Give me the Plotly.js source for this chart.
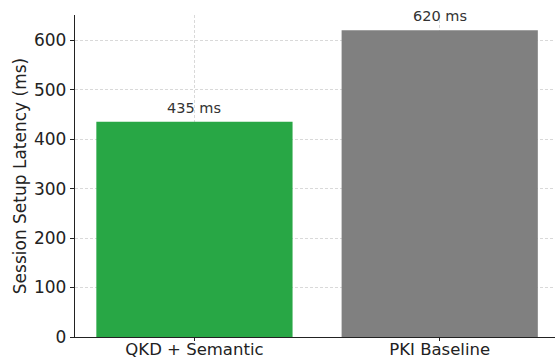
<!DOCTYPE html>
<html><head><meta charset="utf-8">
<script src="https://cdn.plot.ly/plotly-3.0.1.min.js"></script>
<style>html,body{margin:0;padding:0;background:#fff}#c{width:555px;height:358px}</style>
</head><body><div id="c"></div>
<script>
const categories = ["QKD + Semantic", "PKI Baseline"];
const latencies = [435, 620];
const labels = ["435 ms", "620 ms"];
const colors = ["#28a745", "#808080"];
const yTicks = [0, 100, 200, 300, 400, 500, 600];

const F = "DejaVu Sans, sans-serif";
const trace = {
  type: "bar", x: categories, y: latencies, width: 0.8,
  marker: {color: colors, line: {width: 0}}, hoverinfo: "none"
};
const annotations = categories.map((c, i) => ({
  x: c, y: latencies[i], text: labels[i], showarrow: false,
  xanchor: "center", yanchor: "bottom", yshift: 4,
  font: {family: F, size: 14.5, color: "#333"}
}));
Plotly.newPlot("c", [trace], {
  width: 555, height: 358,
  margin: {l: 75, r: 0, t: 15, b: 21, pad: 0},
  paper_bgcolor: "#fff", plot_bgcolor: "#fff",
  showlegend: false, bargap: 0.2,
  xaxis: {
    type: "category", range: [-0.487, 1.47],
    showline: true, linecolor: "#222", linewidth: 1.2,
    ticks: "outside", ticklen: 3, tickcolor: "#222", ticklabelstandoff: -6,
    showgrid: true, gridcolor: "#d0d0d0", griddash: "3px,2px", gridwidth: 0.8,
    layer: "above traces", zeroline: false,
    tickfont: {family: F, size: 16.5, color: "#222"}
  },
  yaxis: {
    range: [0, 651], tickvals: yTicks,
    showline: true, linecolor: "#222", linewidth: 1.2,
    ticks: "outside", ticklen: 4, tickcolor: "#222",
    showgrid: true, gridcolor: "#d0d0d0", griddash: "3px,2px", gridwidth: 0.8,
    layer: "above traces", zeroline: false,
    tickfont: {family: F, size: 17, color: "#222"},
    title: {text: "Session Setup Latency (ms)", standoff: 3,
            font: {family: F, size: 17, color: "#222"}}
  },
  annotations: annotations
}, {staticPlot: true});
</script></body></html>
